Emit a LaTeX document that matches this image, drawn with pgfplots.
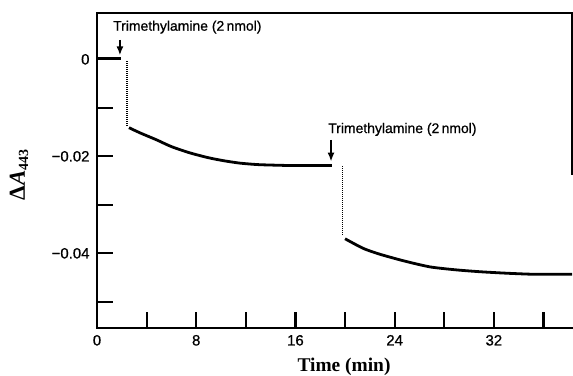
\documentclass[border=0pt]{standalone}
\usepackage{fontspec}
\setmainfont{Liberation Sans}
\newfontfamily\heavysans[FakeBold=0.7]{Liberation Sans}
\newfontfamily\timesfont{Liberation Serif}
\usepackage{pgfplots}
\pgfplotsset{compat=1.18}
\usetikzlibrary{arrows.meta}
\begin{document}
\begin{tikzpicture}
\useasboundingbox (-97bp,-48bp) rectangle (476bp,328bp);
\begin{axis}[
  at={(0,0)}, anchor=south west,
  scale only axis, width=475bp, height=315bp,
  xmin=0, xmax=38.3, ymin=-0.0554, ymax=0.00955,
  axis line style={draw=none},
  xtick={0,4,...,36}, xticklabels={0,,8,,16,,24,,32,},
  ytick={-0.05,-0.04,-0.03,-0.02,-0.01,0},
  yticklabels={,{−0.04},,{−0.02},,0},
  scaled y ticks=false, scaled x ticks=false,
  tick align=inside, xtick pos=bottom, ytick pos=left,
  major tick length=16bp,
  every tick/.style={black, line width=2.2bp},
  ticklabel style={font=\heavysans\fontsize{15}{15}\selectfont},
  yticklabel style={xshift=-4bp},
  xticklabel style={yshift=-3.5bp},
  xlabel={\timesfont\bfseries Time (min)},
  xlabel style={at={(axis description cs:0.52,-0.1238)}, anchor=center, font=\fontsize{19.5}{19.5}\selectfont},
  ylabel={\timesfont\bfseries Δ\textit{A}\raisebox{-0.3ex}{\fontsize{14}{14}\selectfont 443}},
  ylabel style={at={(axis description cs:-0.1642,0.486)}, anchor=center, font=\fontsize{23}{23}\selectfont},
  clip=false,
]
% axis frame
\draw[line width=2.2bp, line cap=rect] (rel axis cs:1,1) -- (rel axis cs:0,1) -- (rel axis cs:0,0) -- (rel axis cs:1,0);
\draw[line width=1.5bp] (rel axis cs:1,0.486) -- (rel axis cs:1,1);

% baseline before first addition
\addplot[black, line width=2.8bp] coordinates {(0,0.0002) (1.9,0.0002)};
% rapid change (dotted)
\addplot[black, line width=1.4bp, dash pattern=on 1bp off 1bp] coordinates {(2.42,-0.0004) (2.42,-0.0140)};
% first decay
\addplot[black, line width=2.8bp, smooth, tension=0.4] coordinates {
 (2.58,-0.0141) (3.5,-0.0152) (4.8,-0.0166) (6.0,-0.0180) (7.5,-0.0193)
 (9.0,-0.0203) (10.2,-0.0209) (11.5,-0.0214) (12.9,-0.0217) (14.0,-0.0218)
 (15.6,-0.0219) (17.0,-0.0219) (18.93,-0.0219)};
% second rapid change
\addplot[black, line width=1.4bp, dash pattern=on 1bp off 1bp] coordinates {(19.81,-0.0221) (19.81,-0.0362)};
% second decay
\addplot[black, line width=2.8bp, smooth, tension=0.4] coordinates {
 (20.0,-0.0370) (21.48,-0.0390) (22.82,-0.0402) (24.8,-0.0416) (26.85,-0.0428)
 (28.9,-0.0434) (30.89,-0.0438) (33.0,-0.0441) (34.92,-0.0443) (36.5,-0.0443) (38.3,-0.0443)};

% annotations
\node[anchor=base west, inner sep=0, font=\heavysans\fontsize{14}{14}\selectfont] at (axis cs:1.29,0.0059) {Trimethylamine (2\,nmol)};
\draw[line width=2bp, -{Latex[length=9bp,width=7bp]}] (axis cs:1.85,0.0040) -- (axis cs:1.85,0.0008);
\node[anchor=base west, inner sep=0, font=\heavysans\fontsize{14}{14}\selectfont] at (axis cs:18.63,-0.0152) {Trimethylamine (2\,nmol)};
\draw[line width=2bp, -{Latex[length=9bp,width=7bp]}] (axis cs:18.87,-0.0166) -- (axis cs:18.87,-0.0211);
\end{axis}
\end{tikzpicture}
\end{document}
